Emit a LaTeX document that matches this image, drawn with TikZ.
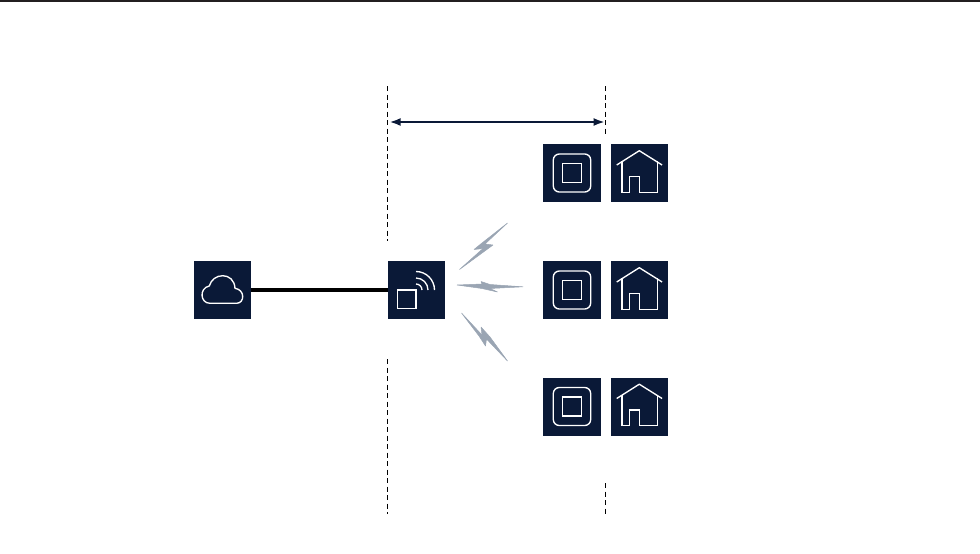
\documentclass[tikz,border=0pt]{standalone}
\usetikzlibrary{arrows.meta}
\definecolor{navy}{HTML}{0A1937}
\definecolor{bolt}{HTML}{9AA5B3}
\definecolor{rule}{HTML}{231F20}
\tikzset{
  iconbox/.style={fill=navy,draw=none,minimum width=57.5pt,minimum height=58pt,inner sep=0pt,outer sep=0pt},
  iconline/.style={draw=white,line width=1.35pt,line join=miter},
  guide/.style={draw=black,line width=0.9pt,dash pattern=on 5pt off 3.5pt},
  boltshape/.style={fill=bolt,draw=bolt,line width=0.5pt,line join=round},
  link/.style={draw=black,line width=3.2pt},
  span/.style={draw=navy,line width=2pt,{Latex[length=11pt,width=8pt]}-{Latex[length=11pt,width=8pt]}},
  pics/squareicon/.style={code={
    \draw[iconline,rounded corners=6pt] (-18.7,-19) rectangle (18.7,19);
    \draw[iconline] (-9.4,-9.4) rectangle (9.4,9.4);
  }},
  pics/homeicon/.style={code={
    \draw[iconline,line join=round] (-22.8,-8) -- (-0.2,-22.3) -- (22.6,-8);
    \draw[iconline] (-17.6,-11.6) -- (-17.6,19.3) -- (-10,19.3) -- (-10,3.5) -- (0,3.5) -- (0,19.3) -- (17.8,19.3) -- (17.8,-11.6);
  }},
}
\begin{document}
\begin{tikzpicture}[x=1pt,y=-1pt]
\useasboundingbox (0,0) rectangle (980,554);
\fill[rule] (0,0) rectangle (980,1.8);

% guides
\coordinate (gla) at (387.3,86);  \coordinate (glb) at (387.3,241);
\coordinate (glc) at (387.3,359); \coordinate (gld) at (387.3,514);
\coordinate (gra) at (605.4,86);  \coordinate (grb) at (605.4,135);
\coordinate (grc) at (605.4,483); \coordinate (grd) at (605.4,514);
\draw[guide] (gla) -- (glb);
\draw[guide] (glc) -- (gld);
\draw[guide] (gra) -- (grb);
\draw[guide] (grc) -- (grd);

% span arrow
\coordinate (spl) at (389.6,122);
\coordinate (spr) at (604.6,122);
\draw[span] (spl) -- (spr);

% boxes
\node[iconbox] (cloud) at (222.5,290) {};
\node[iconbox] (ap) at (416.5,290) {};
\node[iconbox] (sqa) at (572,173) {};
\node[iconbox] (hoa) at (639.5,173) {};
\node[iconbox] (sqb) at (572,290) {};
\node[iconbox] (hob) at (639.5,290) {};
\node[iconbox] (sqc) at (572,406.5) {};
\node[iconbox] (hoc) at (639.5,406.5) {};

\draw[link] (cloud.east) -- (ap.west);

% cloud icon
\draw[iconline,line join=round] (210,303.3) -- (236.5,303.3)
  .. controls (245,303.3) and (245,289.5) .. (235,288.3)
  .. controls (234.5,280) and (229,275.7) .. (222.7,275.7)
  .. controls (216,275.7) and (211,280) .. (209.3,286)
  .. controls (199,288) and (200,303.3) .. (210,303.3) -- cycle;

% access point icon
\draw[iconline] (397.5,290) rectangle (416,308.7);
\draw[iconline] (416,271.5) arc[start angle=90,end angle=0,radius=18.5pt];
\draw[iconline] (416,278) arc[start angle=90,end angle=0,radius=12pt];
\draw[iconline] (416,284) arc[start angle=90,end angle=0,radius=6pt];

% unit icons
\pic at (sqa) {squareicon};
\pic at (sqb) {squareicon};
\pic at (sqc) {squareicon};
\pic at (hoa) {homeicon};
\pic at (hob) {homeicon};
\pic at (hoc) {homeicon};

% bolts
\filldraw[boltshape] (507.5,223) -- (482,243) -- (474,249.5) -- (483,248.5) -- (459.5,269.5) -- (493,245) -- (485,244) -- cycle;
\filldraw[boltshape] (457,285) -- (482,284) -- (481,281.5) -- (490,284.5) -- (523,286.8) -- (490,288.5) -- (497.5,292) -- (482,288.5) -- cycle;
\filldraw[boltshape] (461.5,313) -- (479,336) -- (485.5,346) -- (486.5,339) -- (507.5,361) -- (490,337) -- (481,327) -- (482,335) -- cycle;
\end{tikzpicture}
\end{document}
